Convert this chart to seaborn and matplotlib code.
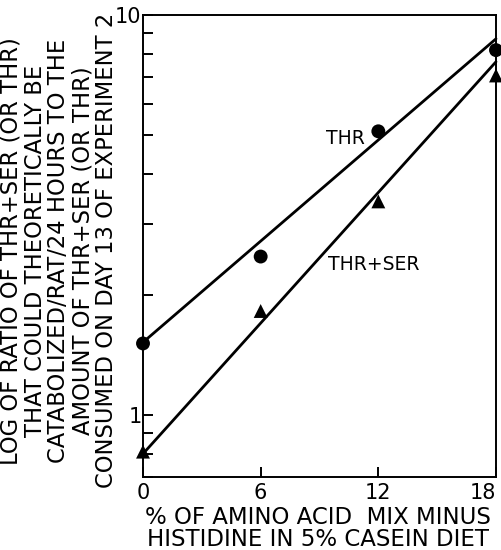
import numpy as np
import pandas as pd
import matplotlib
matplotlib.use("Agg")
import matplotlib.pyplot as plt
import seaborn as sns
from matplotlib.ticker import FixedLocator, NullFormatter, FixedFormatter

# Measured ratios (log scale) against % of amino acid mix in the diet
pct = [0, 6, 12, 18]
thr = [1.51, 2.49, 5.12, 8.17]
thr_ser = [0.81, 1.82, 3.42, 7.06]

# Fitted lines drawn through each series (end values at 0 % and 18 %)
fit_x = [0, 18]
thr_fit = [1.52, 8.72]
thr_ser_fit = [0.80, 7.64]

x_ticks = [0, 6, 12, 18]
x_tick_labels = ["0", "6", "12", "18"]
y_major = [1, 10]
y_major_labels = ["1", "10"]
y_minor = [0.7, 0.8, 0.9, 2, 3, 4, 5, 6, 7, 8, 9]

points = pd.DataFrame({
    "pct": pct * 2,
    "ratio": thr + thr_ser,
    "series": ["THR"] * len(pct) + ["THR+SER"] * len(pct),
})
fits = pd.DataFrame({
    "pct": fit_x * 2,
    "ratio": thr_fit + thr_ser_fit,
    "series": ["THR"] * 2 + ["THR+SER"] * 2,
})

sns.set_theme(style="ticks")
plt.rcParams["font.family"] = ["DejaVu Sans"]

fig = plt.figure(figsize=(5.01, 5.5), dpi=100)
ax = fig.add_axes([143 / 501, 1 - 477 / 550, 353 / 501, 462 / 550])

sns.lineplot(data=fits, x="pct", y="ratio", units="series", estimator=None,
             color="black", linewidth=2.0, ax=ax, legend=False, clip_on=False)
sns.scatterplot(data=points, x="pct", y="ratio", style="series",
                markers={"THR": "o", "THR+SER": "^"}, color="black",
                s=100, edgecolor="black", linewidth=0,
                ax=ax, legend=False, clip_on=False, zorder=5)

ax.set_yscale("log")
ax.set_xlim(0, 18)
ax.set_ylim(0.7, 10)

ax.xaxis.set_major_locator(FixedLocator(x_ticks))
ax.xaxis.set_major_formatter(FixedFormatter(x_tick_labels))
ax.yaxis.set_major_locator(FixedLocator(y_major))
ax.yaxis.set_major_formatter(FixedFormatter(y_major_labels))
ax.yaxis.set_minor_locator(FixedLocator(y_minor))
ax.yaxis.set_minor_formatter(NullFormatter())

ax.tick_params(axis="both", which="both", direction="in", length=7.5,
               width=1.4, color="black", labelcolor="black", labelsize=15)
ax.tick_params(axis="x", pad=4)
ax.tick_params(axis="y", pad=1)

# keep the last x tick label inside the figure
fig.canvas.draw()
ax.get_xticklabels()[-1].set_horizontalalignment("right")

for side in ["left", "right", "top", "bottom"]:
    ax.spines[side].set_visible(True)
    ax.spines[side].set_linewidth(1.4)
    ax.spines[side].set_color("black")

ax.text(9.35, 4.91, "THR", ha="left", va="center", fontsize=13.5, color="black")
ax.text(9.41, 2.38, "THR+SER", ha="left", va="center", fontsize=13.5, color="black")

ax.set_xlabel("% OF AMINO ACID  MIX MINUS\nHISTIDINE IN 5% CASEIN DIET",
              fontsize=16.5, color="black", linespacing=0.95, va="center",
              multialignment="center")
ax.xaxis.set_label_coords(0.496, -0.111)

ax.set_ylabel("LOG OF RATIO OF THR+SER (OR THR)\n"
              "THAT COULD THEORETICALLY BE\n"
              "CATABOLIZED/RAT/24 HOURS TO THE\n"
              "AMOUNT OF THR+SER (OR THR)\n"
              "CONSUMED ON DAY 13 OF EXPERIMENT 2",
              fontsize=16.3, color="black", linespacing=1.05, va="center",
              multialignment="center")
ax.yaxis.set_label_coords(-0.238, 0.49)

fig.savefig("out.png", dpi=100, facecolor="white")
